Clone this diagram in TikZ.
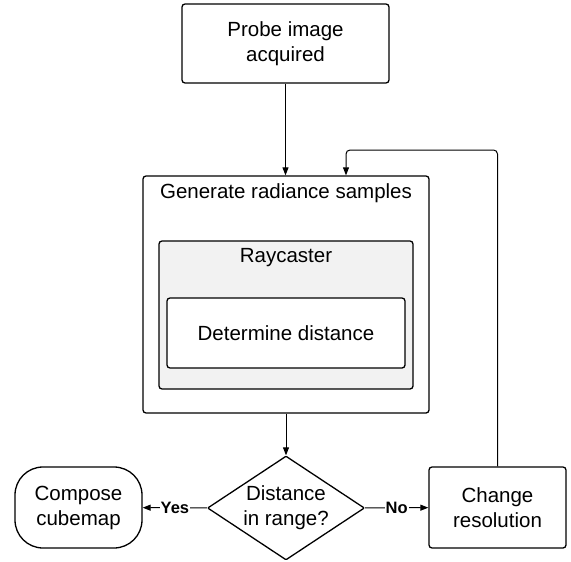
\documentclass[tikz,border=0pt]{standalone}
\usepackage{fontspec}
\setmainfont{Liberation Sans}
\usetikzlibrary{shapes.geometric,arrows.meta}
\begin{document}
\begin{tikzpicture}[x=1pt,y=-1pt,
  box/.style={draw=black,line width=1.3pt,rounded corners=3pt,align=center,inner sep=0pt,font=\fontsize{20.5}{25}\selectfont},
  txt/.style={inner sep=0pt,align=center,font=\fontsize{20.5}{25}\selectfont},
  arr/.style={line width=1pt,-{Triangle[length=8pt,width=6pt]}},
  lab/.style={fill=white,inner sep=1pt,font=\fontsize{16.5}{18}\selectfont\bfseries}]
\useasboundingbox (0,0) rectangle (571,562);
\node[box,minimum width=207pt,minimum height=79pt] (probe) at (285.5,43.5) {Probe image\\acquired};
\node[box,minimum width=286pt,minimum height=237pt] (gen) at (286,294.5) {};
\node[txt] (gentxt) at (286,193) {Generate radiance samples};
\node[box,fill=black!5,minimum width=254pt,minimum height=148pt] (ray) at (286,315) {};
\node[txt] (raytxt) at (286,258) {Raycaster};
\node[box,fill=white,minimum width=238pt,minimum height=70pt] (det) at (286,333) {Determine distance};
\node[box,diamond,rounded corners=1pt,aspect=1.5,minimum width=157pt,minimum height=104pt] (dec) at (286,508) {Distance\\in range?};
\node[box,rounded corners=28pt,minimum width=127pt,minimum height=81pt] (comp) at (78.5,507.5) {Compose\\cubemap};
\node[box,minimum width=137pt,minimum height=81pt] (chg) at (497.5,507.5) {Change\\resolution};
\coordinate (loopc) at (346,150);
\draw[arr] (probe) -- (gen.north -| probe);
\draw[arr] (gen) -- (dec);
\draw[arr] (dec) -- node[lab] {Yes} (comp);
\draw[arr] (dec) -- node[lab] {No} (chg);
\draw[arr,rounded corners=4pt] (chg.north) |- (loopc) -- (loopc |- gen.north);
\end{tikzpicture}
\end{document}
